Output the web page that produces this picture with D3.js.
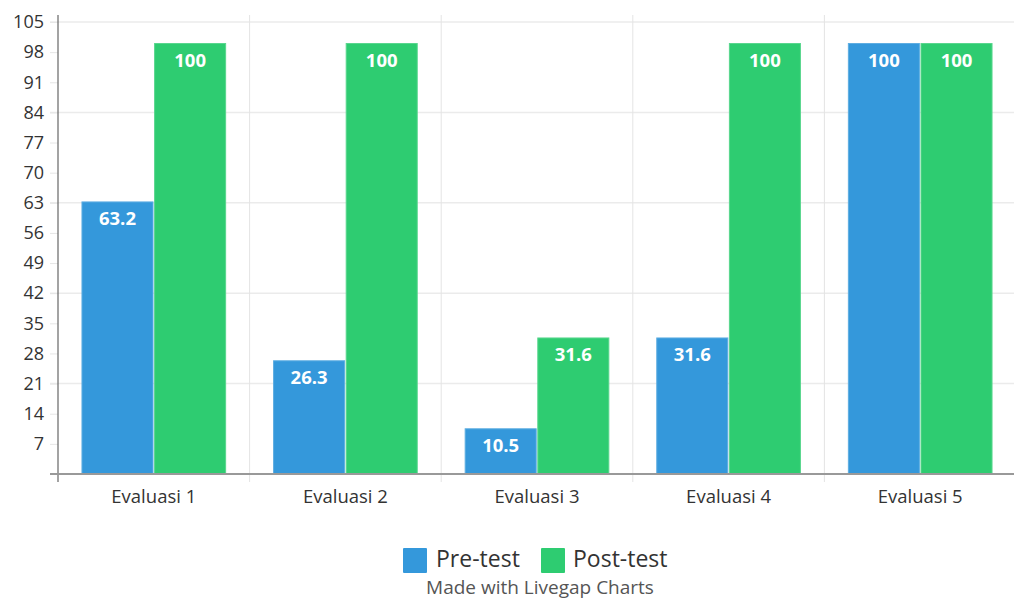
<!DOCTYPE html>
<html><head><meta charset="utf-8">
<script src="https://cdn.jsdelivr.net/npm/d3@7"></script>
<style>body{margin:0;background:#fff;}svg{display:block;font-family:"Open Sans",sans-serif;}</style>
</head><body>
<svg id="c" width="1014" height="600"></svg>
<script>
const categories = ["Evaluasi 1","Evaluasi 2","Evaluasi 3","Evaluasi 4","Evaluasi 5"];
const seriesNames = ["Pre-test","Post-test"];
const preTest = [63.2, 26.3, 10.5, 31.6, 100];
const postTest = [100, 100, 31.6, 100, 100];
const yTicks = [7,14,21,28,35,42,49,56,63,70,77,84,91,98,105];
const gridTicks = [21,42,63,84,105];
const colors = ["#3498db","#2ecc71"];
const strokes = ["#5dade2","#58d68d"];

const svg = d3.select("#c");
const mLeft = 58, mRight = 1016, mTop = 22, mBottom = 474;
const x = d3.scaleBand().domain(categories).range([mLeft, mRight]);
const xs = d3.scaleBand().domain(seriesNames).range([0, x.bandwidth()]).paddingInner(0.022).paddingOuter(0.33);
const y = d3.scaleLinear().domain([0,105]).range([mBottom, mTop]);

// horizontal grid
svg.append("g").selectAll("line").data(gridTicks).join("line")
  .attr("x1", 50).attr("x2", 1014).attr("y1", d=>y(d)).attr("y2", d=>y(d))
  .attr("stroke", "#ebebeb").attr("stroke-width", 1.5);
// vertical grid at category boundaries
svg.append("g").selectAll("line").data(categories.slice(1)).join("line")
  .attr("x1", d=>x(d)).attr("x2", d=>x(d)).attr("y1", 15).attr("y2", 482)
  .attr("stroke", "#e4e4e4").attr("stroke-width", 1);

// y axis
const yAxis = d3.axisLeft(y).tickValues(yTicks).tickSize(8).tickPadding(6);
const ga = svg.append("g").attr("transform", `translate(${mLeft},0)`).call(yAxis);
ga.select(".domain").remove();
ga.selectAll(".tick line").attr("stroke", "#e6e6e6");
ga.selectAll(".tick text").attr("font-size", 18).attr("fill", "#333").attr("font-family", "Open Sans");
svg.append("line").attr("x1", mLeft).attr("x2", mLeft).attr("y1", 15).attr("y2", 482)
  .attr("stroke", "#666").attr("stroke-width", 1.2);

// bars
const data = categories.map((c,i)=>({cat:c, vals:[preTest[i], postTest[i]]}));
const groups = svg.append("g").selectAll("g").data(data).join("g")
  .attr("transform", d=>`translate(${x(d.cat)},0)`);
groups.selectAll("rect").data(d=>d.vals.map((v,j)=>({v, s:seriesNames[j], j}))).join("rect")
  .attr("x", d=>xs(d.s)).attr("width", xs.bandwidth())
  .attr("y", d=>y(d.v)).attr("height", d=>mBottom - y(d.v))
  .attr("fill", d=>colors[d.j]).attr("stroke", d=>strokes[d.j]).attr("stroke-width", 1);
groups.selectAll("text").data(d=>d.vals.map((v,j)=>({v, s:seriesNames[j], j}))).join("text")
  .attr("x", d=>xs(d.s) + xs.bandwidth()/2).attr("y", d=>y(d.v) + 23)
  .attr("text-anchor", "middle").attr("fill", "#fff").attr("font-weight", "bold")
  .attr("font-size", 18.5).text(d=>d.v);

// x axis
svg.append("line").attr("x1", 50).attr("x2", 1014).attr("y1", mBottom).attr("y2", mBottom)
  .attr("stroke", "#999").attr("stroke-width", 2);
const xAxis = d3.axisBottom(x).tickSize(0).tickPadding(0);
const gx = svg.append("g").attr("transform", `translate(0,${mBottom})`).call(xAxis);
gx.select(".domain").remove();
gx.selectAll(".tick text").attr("y", 29).attr("dy", 0).attr("font-size", 18.5).attr("fill", "#333").attr("font-family", "Open Sans");

// legend
const legend = svg.append("g");
const legItems = [{n:seriesNames[0], bx:403, tx:436},{n:seriesNames[1], bx:541, tx:573}];
legItems.forEach((it,i)=>{
  legend.append("rect").attr("x", it.bx).attr("y", 548).attr("width", 24).attr("height", 25).attr("rx", 1).attr("fill", colors[i]);
  legend.append("text").attr("x", it.tx).attr("y", 567).attr("font-size", 23).attr("fill", "#333").text(it.n);
});
svg.append("text").attr("x", 540).attr("y", 594).attr("text-anchor", "middle").attr("font-size", 19).attr("fill", "#555").text("Made with Livegap Charts");
</script>
</body></html>
